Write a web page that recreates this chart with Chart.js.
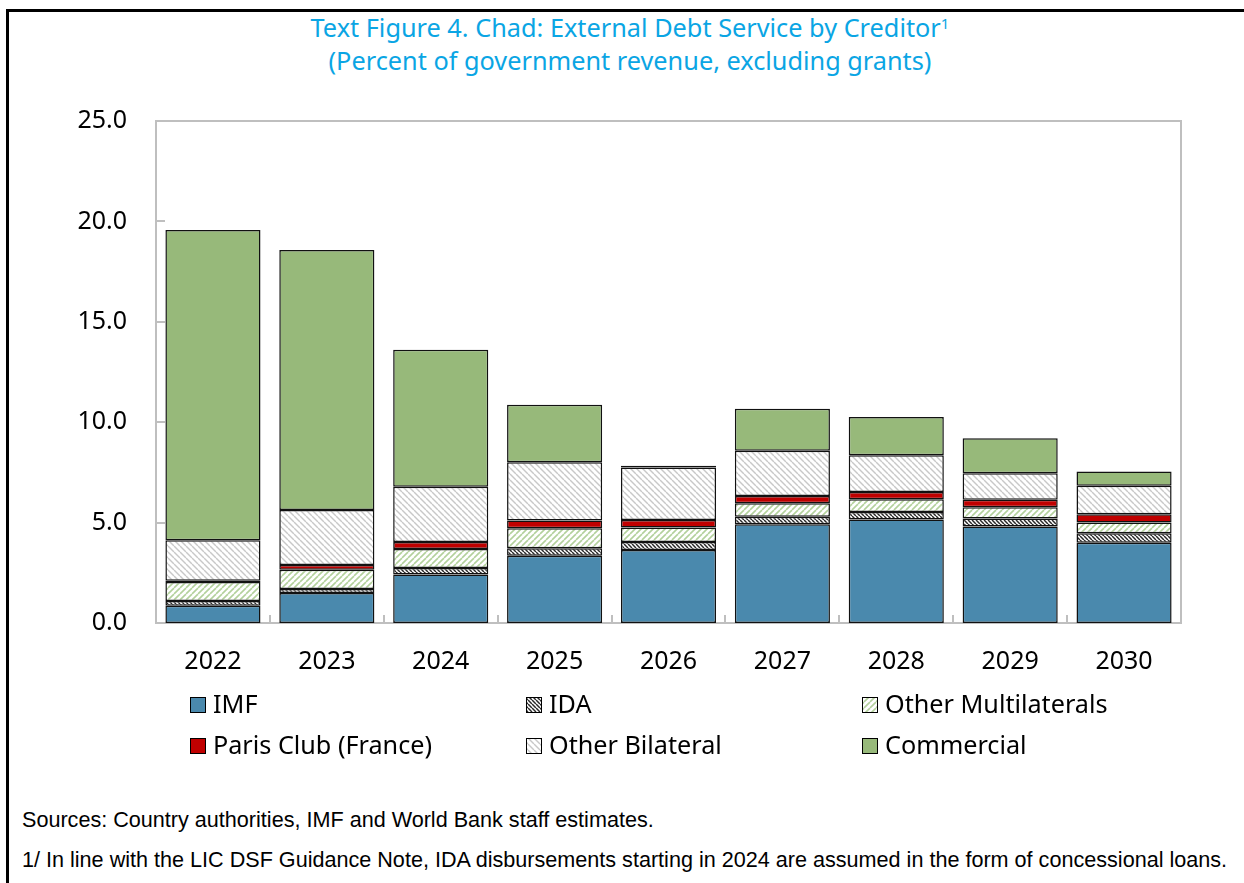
<!DOCTYPE html>
<html>
<head>
<meta charset="utf-8">
<script src="https://cdn.jsdelivr.net/npm/chart.js@4.4.1/dist/chart.umd.min.js"></script>
<style>
  html, body { margin:0; padding:0; background:#fff; overflow:hidden; }
  body { width:1244px; height:883px; position:relative; }
  #frame { position:absolute; left:6px; top:9px; width:1400px; height:1000px; border:3px solid #000; box-sizing:border-box; }
  #title { position:absolute; left:180px; width:900px; top:11px; text-align:center; color:#0aa5e4;
           font-family:"Noto Sans", sans-serif; font-size:25.3px; line-height:33px; }
  #title sup { font-size:15px; vertical-align:top; position:relative; top:-4px; }
  .note { position:absolute; left:22px; font-family:"Liberation Sans", Arial, sans-serif; font-size:21.6px; color:#000; white-space:nowrap; }
  canvas { position:absolute; left:0; top:0; }
</style>
</head>
<body>
<div id="frame"></div>
<div id="title">Text Figure 4. Chad: External Debt Service by Creditor<sup>1</sup><br>(Percent of government revenue, excluding grants)</div>
<div class="note" style="top:807px;">Sources: Country authorities, IMF and World Bank staff estimates.</div>
<div class="note" style="top:847px;">1/ In line with the LIC DSF Guidance Note, IDA disbursements starting in 2024 are assumed in the form of concessional loans.</div>
<canvas id="c" width="1244" height="883"></canvas>
<script>
const years = ["2022","2023","2024","2025","2026","2027","2028","2029","2030"];
const imf        = [0.86, 1.49, 2.42, 3.35, 3.64, 4.92, 5.16, 4.80, 4.00];
const ida        = [0.23, 0.20, 0.32, 0.37, 0.39, 0.37, 0.37, 0.41, 0.47];
const otherMulti = [0.95, 0.96, 0.95, 1.00, 0.72, 0.67, 0.63, 0.55, 0.53];
const parisClub  = [0.06, 0.24, 0.34, 0.39, 0.38, 0.36, 0.36, 0.38, 0.41];
const otherBilat = [2.02, 2.74, 2.76, 2.89, 2.62, 2.26, 1.83, 1.32, 1.43];
const commercial = [15.45, 12.95, 6.82, 2.87, 0.08, 2.09, 1.91, 1.74, 0.71];
const yTicks = [0, 5, 10, 15, 20, 25];

function makePattern(bg, fg, size, dir, lw) {
  const c = document.createElement('canvas');
  c.width = size; c.height = size;
  const x = c.getContext('2d');
  x.fillStyle = bg; x.fillRect(0,0,size,size);
  x.strokeStyle = fg; x.lineWidth = lw;
  for (const k of [-size, 0, size]) {
    x.beginPath();
    if (dir === 'back') { x.moveTo(k, 0); x.lineTo(k+size, size); }
    else { x.moveTo(k, size); x.lineTo(k+size, 0); }
    x.stroke();
  }
  return x.createPattern(c, 'repeat');
}
const fills = {
  imf: '#4a89ad',
  ida: makePattern('#ffffff', '#2a2a2a', 4, 'back', 1.5),
  om: makePattern('#ffffff', '#b3d19c', 6, 'fwd', 1.6),
  pc: '#c00000',
  ob: makePattern('#ffffff', '#c8c8c8', 6, 'back', 1.4),
  com: '#97b97a'
};

const series = [
  ["IMF", imf, fills.imf],
  ["IDA", ida, fills.ida],
  ["Other Multilaterals", otherMulti, fills.om],
  ["Paris Club (France)", parisClub, fills.pc],
  ["Other Bilateral", otherBilat, fills.ob],
  ["Commercial", commercial, fills.com]
];

const FONT = '"Noto Sans", sans-serif';

const decor = {
  id: 'decor',
  beforeDatasetsDraw(chart) {
    const {ctx, chartArea: a, scales: {x, y}} = chart;
    ctx.save();
    ctx.strokeStyle = '#bfbfbf';
    ctx.lineWidth = 2;
    ctx.strokeRect(a.left, a.top, a.right - a.left, a.bottom - a.top);
    ctx.beginPath();
    for (const v of yTicks) {
      const py = Math.round(y.getPixelForValue(v));
      ctx.moveTo(a.left, py); ctx.lineTo(a.left + 9, py);
    }
    const step = (a.right - a.left) / years.length;
    for (let i = 1; i < years.length; i++) {
      const px = Math.round(a.left + step * i);
      ctx.moveTo(px, a.bottom); ctx.lineTo(px, a.bottom - 8);
    }
    ctx.stroke();
    ctx.restore();
  },
  afterDraw(chart) {
    const ctx = chart.ctx;
    ctx.save();
    const cols = [190, 526, 862], rows = [705, 746];
    chart.data.datasets.forEach((ds, i) => {
      const cx = cols[i % 3], cy = rows[Math.floor(i / 3)];
      ctx.fillStyle = ds.backgroundColor;
      ctx.fillRect(cx, cy - 8, 16, 16);
      ctx.strokeStyle = '#000';
      ctx.lineWidth = 1;
      ctx.strokeRect(cx + 0.5, cy - 7.5, 15, 15);
      ctx.fillStyle = '#000';
      ctx.font = '25.2px ' + FONT;
      ctx.textBaseline = 'middle';
      ctx.textAlign = 'left';
      ctx.fillText(ds.label, cx + 23, cy + 1);
    });
    ctx.restore();
  }
};

new Chart(document.getElementById('c'), {
  type: 'bar',
  data: {
    labels: years,
    datasets: series.map(([label, data, fill]) => ({
      label, data, backgroundColor: fill, borderColor: '#111', borderWidth: 1.5,
      borderSkipped: false,
      categoryPercentage: 1.0, barPercentage: 0.835
    }))
  },
  options: {
    responsive: false,
    animation: false,
    layout: { padding: { left: 0, top: 121, right: 63, bottom: 200 } },
    plugins: { legend: { display: false }, title: { display: false }, tooltip: { enabled: false } },
    scales: {
      x: {
        stacked: true,
        grid: { display: false, drawTicks: false },
        border: { display: false },
        ticks: { color: '#000', font: { family: FONT, size: 25 }, padding: 24, maxRotation: 0 },
        afterFit(s) { s.height = 60; }
      },
      y: {
        stacked: true,
        min: 0, max: 25,
        grid: { display: false, drawTicks: false },
        border: { display: false },
        ticks: { stepSize: 5, color: '#000', font: { family: FONT, size: 25 }, padding: 29,
                 callback: v => Number(v).toFixed(1) },
        afterFit(s) { s.width = 156; }
      }
    }
  },
  plugins: [decor]
});
</script>
</body>
</html>
